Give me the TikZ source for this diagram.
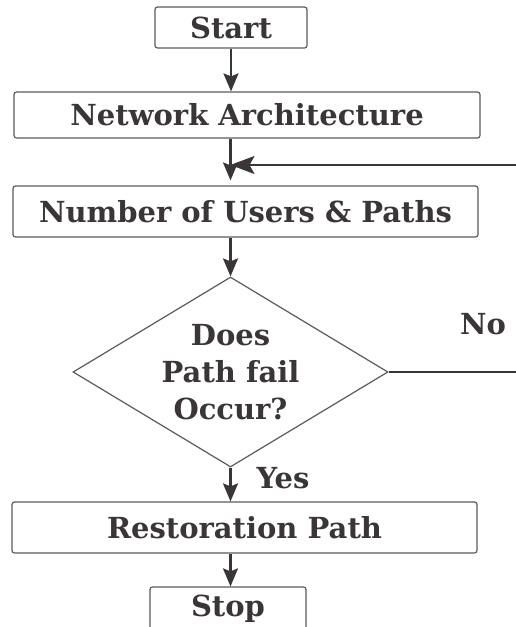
\documentclass[tikz,border=0pt]{standalone}
\usepackage{fontspec}
\setmainfont{DejaVu Serif}
\usepackage{tikz}
\usetikzlibrary{arrows.meta, shapes.geometric, calc}

\definecolor{ink}{HTML}{3A3536}
\definecolor{rim}{HTML}{5A5A5A}

\begin{document}
\begin{tikzpicture}[x=1pt, y=-1pt, inner sep=0pt, text=ink,
	font=\fontsize{29}{37}\selectfont\bfseries,
	box/.style={draw=rim, line width=1.2pt, rounded corners=2.5pt},
	decision/.style={diamond, draw=rim, line width=1.2pt, align=center, aspect=1.66},
	line/.style={draw=ink, line width=2.2pt},
	>={Stealth[length=18pt, width=15pt, inset=3pt]}]
	
	\useasboundingbox (0,0) rectangle (516,627);
	
	\node[box, minimum width=152pt, minimum height=41pt](start) at (231,27.5) {Start};
	\node[box, minimum width=466pt, minimum height=46pt](arch) at (247,115) {Network Architecture};
	\node[box, minimum width=465pt, minimum height=51pt](users) at (245.5,211.5) {Number of Users \& Paths};
	\node[decision, minimum width=315pt, minimum height=190pt](dec) at (230.5,372) {Does\\Path fail\\Occur?};
	\node[box, minimum width=465pt, minimum height=51pt](restore) at (244.5,527.5) {Restoration Path};
	\node[box, minimum width=156pt, minimum height=44pt](stop) at (228,609) {Stop};
	
	\node[](no) at (483,324) {No};
	\node[](yes) at (283,478) {Yes};
	
	\coordinate (back) at (516,165);
	
	% main flow
	\draw[line, ->] (start.south) -- (start.south |- arch.north);
	\draw[line, ->, shorten >=5pt] (arch.south -| dec) -- (users.north -| dec);
	\draw[line, ->] (users.south -| dec) -- (dec.north);
	\draw[line, ->] (dec.south) -- (dec.south |- restore.north);
	\draw[line, ->] (restore.south -| dec) -- (stop.north -| dec);
	
	% loop back
	\draw[line] (dec.east) -- (dec.east -| back);
	\draw[line, -{Stealth[length=24pt, width=18pt, inset=5pt]}] (back) -- (back -| dec);
\end{tikzpicture}
\end{document}
